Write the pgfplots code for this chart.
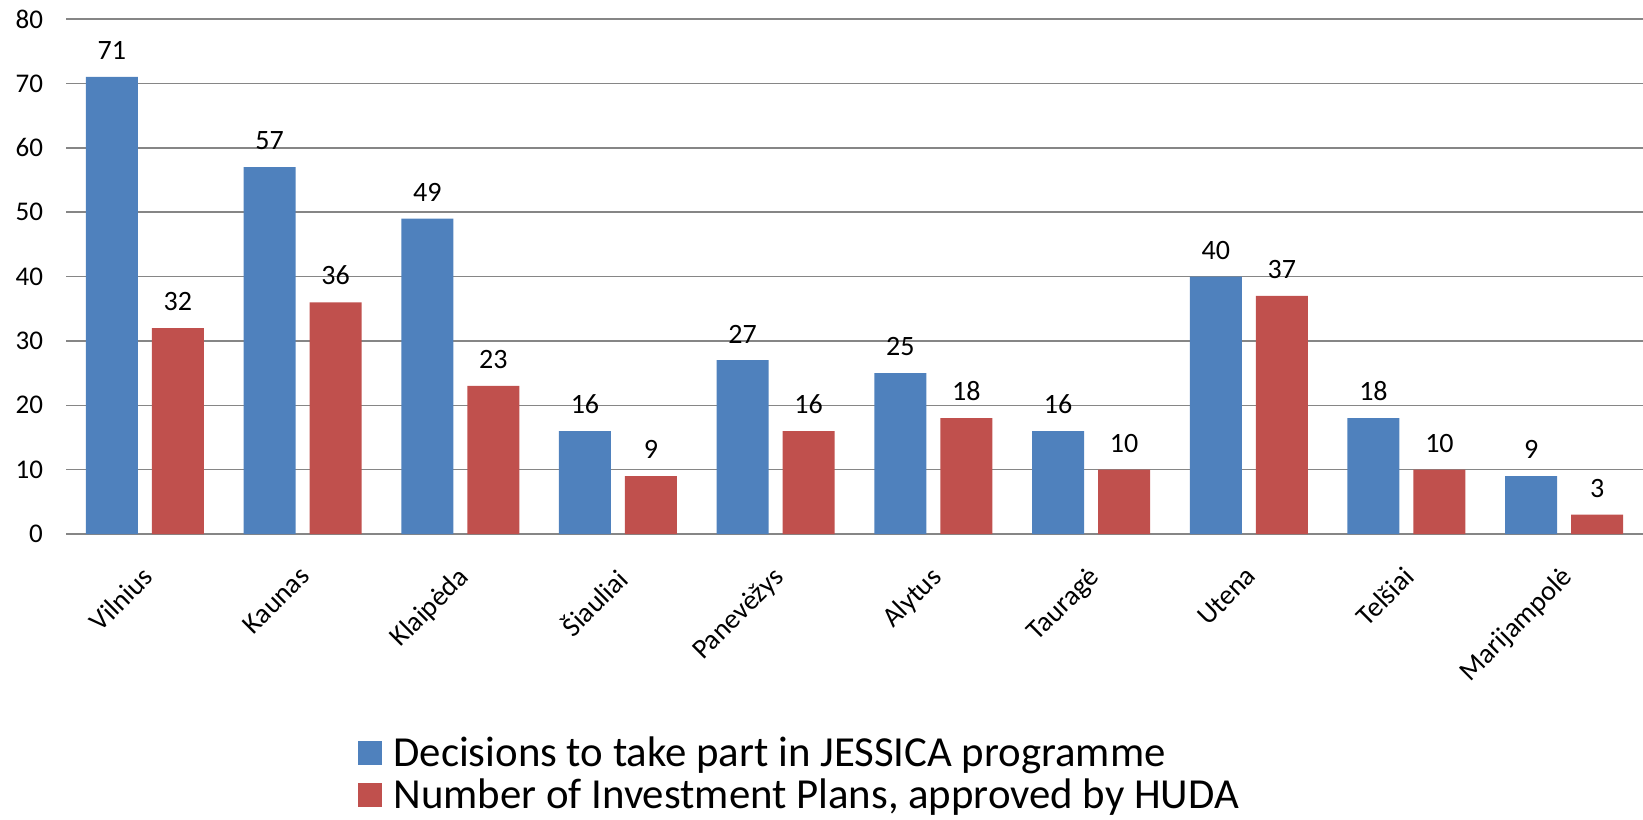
\documentclass[border=0pt]{standalone}
\usepackage{pgfplots}
\pgfplotsset{compat=1.18}
\usepackage{fontspec}
\setmainfont{Carlito}
\definecolor{cblue}{HTML}{4F81BD}
\definecolor{cred}{HTML}{C0504D}
\definecolor{cgrid}{HTML}{868686}
\begin{document}
\begin{tikzpicture}
\begin{axis}[
  at={(0,0)}, anchor=south west,
  scale only axis, width=788.5pt, height=257.5pt,
  ybar=7pt, bar width=26pt,
  xmin=-0.5, xmax=9.5, ymin=0, ymax=80,
  ytick={0,10,...,80},
  xtick=data,
  xticklabels={Vilnius, Kaunas, Klaipėda, Šiauliai, Panevėžys, Alytus, Tauragė, Utena, Telšiai, Marijampolė},
  ymajorgrids, grid style={cgrid, line width=0.75pt},
  axis line style={draw=none},
  major tick length=0pt,
  /pgf/number format/assume math mode=true,
  yticklabel style={xshift=-8pt, font=\fontsize{13.5}{16}\selectfont},
  xticklabel style={rotate=45, anchor=north east, xshift=-9pt, yshift=-6pt, font=\fontsize{14}{16}\selectfont},
  nodes near coords,
  nodes near coords style={font=\fontsize{14}{16}\selectfont, text=black, yshift=5pt},
  legend image code/.code={\fill[#1] (0pt,-6pt) rectangle (12pt,6pt); \path (15.5pt,0pt);},
  legend cell align=left,
  legend style={at={(0.1852,-0.3845)}, anchor=north west, draw=none, fill=none,
    font=\fontsize{21.4}{22.5}\selectfont, inner sep=0pt, row sep=0.7pt},
]
\addplot[fill=cblue, draw=none] coordinates {(0,71)(1,57)(2,49)(3,16)(4,27)(5,25)(6,16)(7,40)(8,18)(9,9)};
\addplot[fill=cred, draw=none] coordinates {(0,32)(1,36)(2,23)(3,9)(4,16)(5,18)(6,10)(7,37)(8,10)(9,3)};
\legend{Decisions to take part in JESSICA programme, {Number of Investment Plans, approved by HUDA}}
\end{axis}
\pgfresetboundingbox
\path (-33pt,-142.5pt) rectangle (788.5pt,267pt);
\end{tikzpicture}
\end{document}
